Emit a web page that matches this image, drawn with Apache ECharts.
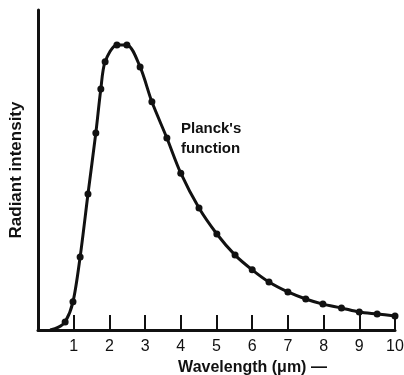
<!DOCTYPE html>
<html>
<head>
<meta charset="utf-8">
<script src="https://cdn.jsdelivr.net/npm/echarts@6/dist/echarts.min.js"></script>
<style>
  html, body { margin: 0; padding: 0; background: #fff; }
  #chart { width: 404px; height: 375px; }
</style>
</head>
<body>
<div id="chart"></div>
<script>
// wavelength (um) and radiant intensity (arbitrary units, 0-100)
var wavelength = [0.34, 0.56, 0.76, 0.98, 1.18, 1.40, 1.62, 1.76, 1.88, 2.21, 2.49, 2.86, 3.19, 3.61, 4.0, 4.51, 5.01, 5.52, 6.0, 6.47, 7.0, 7.5, 7.98, 8.5, 9.0, 9.5, 10.0];
var intensity  = [0, 0.8, 2.5, 8.8, 22.8, 42.5, 61.6, 75.3, 83.8, 89.1, 89.1, 82.2, 71.3, 60, 49, 38.1, 30, 23.4, 18.8, 15, 11.9, 9.7, 8.1, 6.9, 5.6, 5.0, 4.4];
// first two points are only part of the line, no dot drawn
var noDot = 2;

var xTickLabels = ["", "1", "2", "3", "4", "5", "6", "7", "8", "9", "10"];

var font = "'Liberation Sans', Arial, sans-serif";

var seriesData = [];
for (var i = 0; i < wavelength.length; i++) {
  var item = { value: [wavelength[i], intensity[i]] };
  if (i < noDot) {
    item.symbol = "none";
  }
  seriesData.push(item);
}

var myChart = echarts.init(document.getElementById("chart"));
var option = {
  animation: false,
  backgroundColor: "#fff",
  grid: {
    left: 38,
    right: 9,
    top: 10,
    bottom: 45,
    containLabel: false,
    outerBoundsMode: "none"
  },
  xAxis: {
    type: "value",
    min: 0,
    max: 10,
    interval: 1,
    name: "Wavelength (\u03bcm) \u2014",
    nameLocation: "middle",
    nameGap: 29,
    nameTextStyle: {
      fontFamily: font,
      fontSize: 16,
      fontWeight: "bold",
      color: "#111",
      padding: [0, 0, 0, 72]
    },
    splitLine: { show: false },
    axisLine: {
      lineStyle: { color: "#111", width: 3 }
    },
    axisTick: {
      inside: true,
      length: 15,
      lineStyle: { color: "#111", width: 2 }
    },
    axisLabel: {
      margin: 9,
      fontFamily: font,
      fontSize: 16,
      color: "#111",
      formatter: function(v) {
        return xTickLabels[Math.round(v)];
      }
    }
  },
  yAxis: {
    type: "value",
    min: 0,
    max: 100,
    name: "Radiant intensity",
    nameLocation: "middle",
    nameGap: 13,
    nameRotate: 90,
    nameTextStyle: {
      fontFamily: font,
      fontSize: 17,
      fontWeight: "bold",
      color: "#111"
    },
    splitLine: { show: false },
    axisLine: {
      show: true,
      lineStyle: { color: "#111", width: 3 }
    },
    axisTick: { show: false },
    axisLabel: { show: false }
  },
  graphic: [
    {
      type: "text",
      left: 181,
      top: 119,
      style: {
        text: "Planck's\nfunction",
        fontFamily: font,
        fontSize: 15,
        fontWeight: "bold",
        lineHeight: 20,
        fill: "#111"
      }
    }
  ],
  series: [
    {
      type: "line",
      data: seriesData,
      smooth: 0.3,
      symbol: "circle",
      symbolSize: 7,
      lineStyle: { color: "#111", width: 3 },
      itemStyle: { color: "#111" }
    }
  ]
};
myChart.setOption(option);
</script>
</body>
</html>
